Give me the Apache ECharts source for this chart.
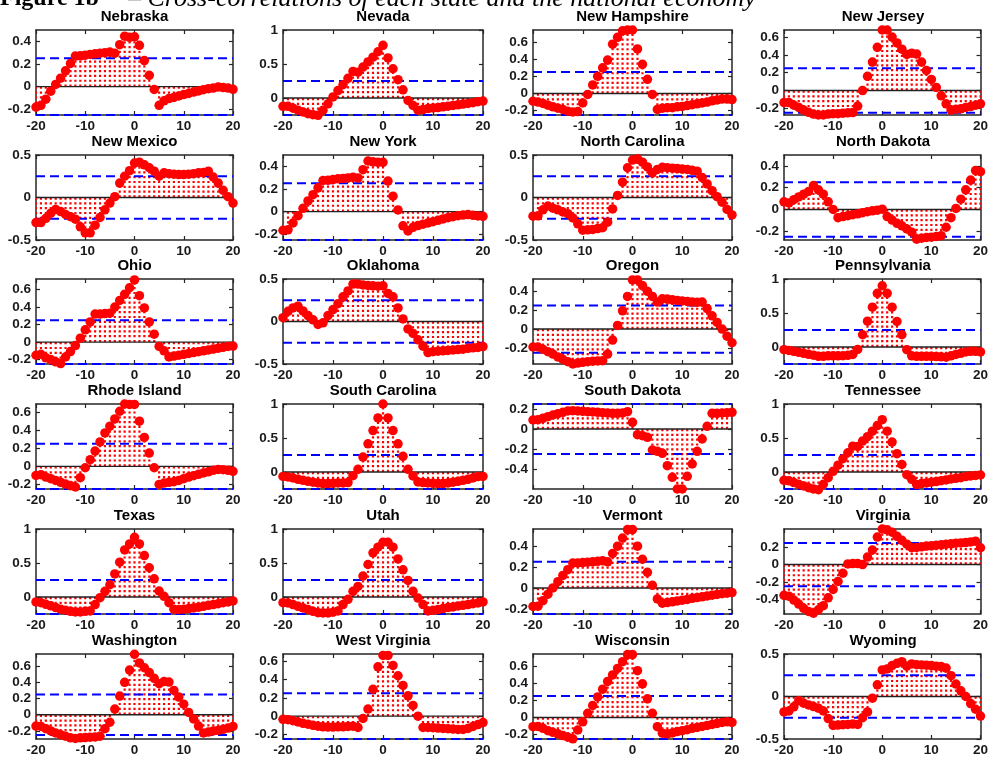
<!DOCTYPE html>
<html><head><meta charset="utf-8">
<script src="https://cdn.jsdelivr.net/npm/echarts@6/dist/echarts.min.js"></script>
<style>html,body{margin:0;padding:0;background:#fff;overflow:hidden}#c{width:991px;height:760px}</style>
</head><body><div id="c"></div>
<script>
// Lags (x values)
const lags = [-20,-19,-18,-17,-16,-15,-14,-13,-12,-11,-10,-9,-8,-7,-6,-5,-4,-3,-2,-1,0,1,2,3,4,5,6,7,8,9,10,11,12,13,14,15,16,17,18,19,20];
const xTicks = [-20,-10,0,10,20];
const bound = 0.25;

// Cross-correlations per state
const nebraska = [-0.18,-0.165,-0.11,-0.04,0.02,0.075,0.14,0.205,0.27,0.272,0.278,0.284,0.29,0.295,0.3,0.305,0.295,0.37,0.445,0.435,0.44,0.365,0.23,0.10,-0.025,-0.165,-0.125,-0.105,-0.095,-0.082,-0.07,-0.06,-0.048,-0.038,-0.027,-0.018,-0.012,-0.003,-0.008,-0.012,-0.023];
const nevada = [-0.123,-0.123,-0.15,-0.18,-0.205,-0.23,-0.245,-0.255,-0.18,-0.085,0.015,0.11,0.195,0.29,0.39,0.38,0.455,0.53,0.60,0.68,0.775,0.59,0.43,0.27,0.12,-0.035,-0.11,-0.18,-0.17,-0.155,-0.147,-0.14,-0.13,-0.12,-0.11,-0.1,-0.09,-0.08,-0.07,-0.055,-0.045];
const newHampshire = [-0.09,-0.1,-0.115,-0.135,-0.155,-0.17,-0.185,-0.205,-0.215,-0.21,-0.11,-0.01,0.1,0.2,0.3,0.39,0.575,0.655,0.73,0.74,0.74,0.52,0.34,0.165,-0.01,-0.185,-0.17,-0.165,-0.165,-0.155,-0.15,-0.14,-0.13,-0.12,-0.11,-0.1,-0.085,-0.075,-0.065,-0.065,-0.07];
const newJersey = [-0.135,-0.135,-0.165,-0.19,-0.22,-0.245,-0.265,-0.275,-0.275,-0.265,-0.26,-0.26,-0.255,-0.25,-0.248,-0.175,0.0,0.16,0.32,0.485,0.68,0.68,0.6,0.535,0.465,0.405,0.42,0.41,0.32,0.225,0.125,0.035,-0.06,-0.15,-0.22,-0.21,-0.205,-0.19,-0.18,-0.165,-0.15];
const newMexico = [-0.295,-0.295,-0.245,-0.185,-0.14,-0.165,-0.2,-0.225,-0.255,-0.345,-0.415,-0.415,-0.325,-0.235,-0.145,-0.065,0.01,0.17,0.25,0.315,0.405,0.415,0.385,0.35,0.31,0.25,0.29,0.28,0.275,0.27,0.27,0.275,0.28,0.29,0.295,0.31,0.24,0.17,0.085,0.01,-0.065];
const newYork = [-0.165,-0.16,-0.1,-0.035,0.03,0.095,0.15,0.21,0.275,0.278,0.283,0.29,0.293,0.298,0.304,0.298,0.37,0.447,0.44,0.435,0.435,0.27,0.137,0.015,-0.125,-0.17,-0.138,-0.123,-0.11,-0.1,-0.088,-0.076,-0.064,-0.053,-0.044,-0.035,-0.03,-0.026,-0.032,-0.038,-0.041];
const northCarolina = [-0.22,-0.215,-0.145,-0.1,-0.125,-0.145,-0.17,-0.19,-0.24,-0.31,-0.385,-0.38,-0.375,-0.365,-0.355,-0.29,-0.135,0.025,0.18,0.35,0.44,0.455,0.415,0.36,0.29,0.33,0.355,0.35,0.345,0.34,0.335,0.33,0.32,0.31,0.235,0.16,0.08,0.01,-0.055,-0.14,-0.205];
const northDakota = [0.07,0.06,0.09,0.115,0.14,0.165,0.22,0.18,0.14,0.07,0.0,-0.075,-0.065,-0.057,-0.048,-0.04,-0.03,-0.02,-0.012,-0.006,0.003,-0.065,-0.097,-0.127,-0.15,-0.178,-0.208,-0.272,-0.263,-0.257,-0.254,-0.248,-0.24,-0.163,-0.075,0.01,0.095,0.18,0.27,0.357,0.347];
const ohio = [-0.15,-0.14,-0.18,-0.2,-0.225,-0.245,-0.17,-0.108,-0.04,0.045,0.14,0.23,0.32,0.32,0.325,0.33,0.4,0.475,0.545,0.62,0.71,0.53,0.39,0.23,0.09,-0.05,-0.1,-0.17,-0.16,-0.15,-0.14,-0.13,-0.12,-0.11,-0.1,-0.09,-0.08,-0.07,-0.06,-0.05,-0.045];
const oklahoma = [0.045,0.12,0.16,0.18,0.125,0.07,0.02,-0.035,-0.015,0.07,0.14,0.21,0.29,0.36,0.44,0.44,0.43,0.425,0.42,0.415,0.42,0.33,0.29,0.16,0.03,-0.087,-0.14,-0.215,-0.29,-0.365,-0.355,-0.35,-0.345,-0.34,-0.335,-0.33,-0.325,-0.315,-0.31,-0.305,-0.295];
const oregon = [-0.19,-0.19,-0.215,-0.24,-0.265,-0.295,-0.32,-0.345,-0.37,-0.36,-0.352,-0.345,-0.34,-0.338,-0.335,-0.265,-0.117,0.038,0.193,0.345,0.52,0.52,0.46,0.4,0.345,0.286,0.32,0.317,0.31,0.303,0.297,0.293,0.286,0.283,0.286,0.217,0.14,0.07,0.0,-0.076,-0.145];
const pennsylvania = [-0.04,-0.05,-0.063,-0.078,-0.093,-0.107,-0.12,-0.137,-0.137,-0.13,-0.13,-0.13,-0.127,-0.122,-0.11,-0.035,0.18,0.38,0.585,0.79,0.9,0.79,0.585,0.375,0.18,-0.04,-0.13,-0.137,-0.137,-0.137,-0.137,-0.14,-0.145,-0.15,-0.13,-0.11,-0.093,-0.073,-0.063,-0.063,-0.073];
const rhodeIsland = [-0.1,-0.092,-0.118,-0.136,-0.155,-0.176,-0.195,-0.213,-0.228,-0.125,-0.015,0.074,0.17,0.27,0.37,0.445,0.525,0.61,0.69,0.685,0.685,0.5,0.32,0.147,-0.015,-0.2,-0.184,-0.176,-0.17,-0.155,-0.136,-0.118,-0.103,-0.088,-0.073,-0.06,-0.044,-0.033,-0.037,-0.044,-0.055];
const southCarolina = [-0.065,-0.073,-0.088,-0.107,-0.122,-0.137,-0.15,-0.16,-0.17,-0.17,-0.166,-0.16,-0.16,-0.155,-0.054,0.04,0.22,0.415,0.61,0.795,1.0,0.795,0.61,0.415,0.23,0.04,-0.058,-0.146,-0.155,-0.16,-0.166,-0.17,-0.17,-0.16,-0.15,-0.137,-0.122,-0.107,-0.088,-0.068,-0.065];
const southDakota = [0.09,0.093,0.107,0.123,0.14,0.153,0.167,0.18,0.183,0.18,0.177,0.173,0.17,0.167,0.163,0.16,0.157,0.157,0.16,0.173,0.067,-0.057,-0.067,-0.083,-0.21,-0.223,-0.243,-0.367,-0.483,-0.6,-0.6,-0.473,-0.35,-0.223,-0.1,0.027,0.157,0.157,0.16,0.163,0.167];
const tennessee = [-0.122,-0.13,-0.156,-0.18,-0.205,-0.23,-0.25,-0.26,-0.18,-0.083,0.01,0.1,0.195,0.283,0.38,0.375,0.455,0.52,0.6,0.683,0.77,0.6,0.44,0.27,0.112,-0.04,-0.107,-0.185,-0.17,-0.16,-0.15,-0.14,-0.127,-0.117,-0.102,-0.093,-0.083,-0.068,-0.058,-0.05,-0.044];
const texas = [-0.073,-0.083,-0.107,-0.13,-0.156,-0.18,-0.195,-0.21,-0.22,-0.22,-0.21,-0.205,-0.112,-0.01,0.083,0.18,0.34,0.512,0.693,0.78,0.878,0.78,0.61,0.43,0.268,0.088,0.01,-0.083,-0.18,-0.185,-0.18,-0.17,-0.16,-0.15,-0.137,-0.122,-0.112,-0.098,-0.083,-0.073,-0.058];
const utah = [-0.083,-0.088,-0.112,-0.137,-0.16,-0.185,-0.21,-0.23,-0.234,-0.234,-0.224,-0.205,-0.112,-0.034,0.083,0.156,0.307,0.478,0.65,0.732,0.805,0.805,0.732,0.56,0.4,0.244,0.083,-0.015,-0.112,-0.205,-0.195,-0.185,-0.17,-0.156,-0.146,-0.132,-0.122,-0.112,-0.098,-0.088,-0.073];
const vermont = [-0.178,-0.175,-0.122,-0.06,0.0,0.06,0.12,0.175,0.238,0.24,0.243,0.247,0.25,0.255,0.26,0.25,0.33,0.4,0.478,0.56,0.56,0.4,0.275,0.15,0.025,-0.106,-0.147,-0.14,-0.133,-0.125,-0.117,-0.11,-0.1,-0.092,-0.085,-0.077,-0.07,-0.062,-0.055,-0.05,-0.045];
const virginia = [-0.355,-0.365,-0.41,-0.455,-0.504,-0.54,-0.56,-0.522,-0.474,-0.384,-0.287,-0.194,-0.1,0.007,0.011,0.011,0.0,0.086,0.168,0.317,0.41,0.4,0.373,0.325,0.28,0.235,0.194,0.198,0.205,0.213,0.216,0.224,0.228,0.235,0.239,0.246,0.25,0.254,0.261,0.269,0.194];
const washington = [-0.14,-0.145,-0.173,-0.2,-0.226,-0.246,-0.266,-0.286,-0.294,-0.286,-0.282,-0.278,-0.274,-0.266,-0.173,-0.093,0.07,0.23,0.4,0.552,0.746,0.64,0.58,0.52,0.45,0.383,0.41,0.403,0.3,0.218,0.13,0.028,-0.052,-0.14,-0.226,-0.214,-0.2,-0.194,-0.181,-0.165,-0.145];
const westVirginia = [-0.035,-0.039,-0.05,-0.064,-0.078,-0.088,-0.1,-0.11,-0.117,-0.12,-0.12,-0.117,-0.117,-0.113,-0.11,-0.124,-0.025,0.078,0.293,0.54,0.664,0.664,0.555,0.442,0.336,0.223,0.117,0.0,-0.124,-0.124,-0.127,-0.13,-0.134,-0.138,-0.141,-0.145,-0.145,-0.134,-0.113,-0.092,-0.07];
const wisconsin = [-0.107,-0.103,-0.126,-0.153,-0.172,-0.19,-0.21,-0.229,-0.248,-0.145,-0.05,0.05,0.14,0.24,0.33,0.42,0.496,0.572,0.65,0.733,0.733,0.546,0.393,0.218,0.05,-0.107,-0.183,-0.19,-0.18,-0.164,-0.153,-0.141,-0.126,-0.115,-0.103,-0.092,-0.08,-0.069,-0.057,-0.05,-0.057];
const wyoming = [-0.182,-0.17,-0.122,-0.051,-0.079,-0.099,-0.119,-0.138,-0.17,-0.26,-0.34,-0.336,-0.332,-0.328,-0.324,-0.328,-0.25,-0.182,-0.02,0.138,0.312,0.324,0.364,0.39,0.41,0.356,0.383,0.375,0.372,0.368,0.364,0.356,0.352,0.335,0.245,0.146,0.067,0.0,-0.083,-0.15,-0.23];

const stateNames = ['Nebraska','Nevada','New Hampshire','New Jersey','New Mexico','New York','North Carolina','North Dakota','Ohio','Oklahoma','Oregon','Pennsylvania','Rhode Island','South Carolina','South Dakota','Tennessee','Texas','Utah','Vermont','Virginia','Washington','West Virginia','Wisconsin','Wyoming'];
const stateValues = [nebraska,nevada,newHampshire,newJersey,newMexico,newYork,northCarolina,northDakota,ohio,oklahoma,oregon,pennsylvania,rhodeIsland,southCarolina,southDakota,tennessee,texas,utah,vermont,virginia,washington,westVirginia,wisconsin,wyoming];
const yMins = [-0.25,-0.25,-0.25,-0.275,-0.5,-0.25,-0.5,-0.28,-0.25,-0.5,-0.37,-0.25,-0.25,-0.25,-0.6,-0.25,-0.25,-0.25,-0.25,-0.57,-0.3,-0.25,-0.25,-0.5];
const yMaxs = [0.5,1,0.74,0.68,0.5,0.5,0.5,0.5,0.72,0.5,0.53,1,0.69,1,0.25,1,1,1,0.565,0.41,0.75,0.68,0.74,0.5];
const tA = [-0.2,0,0.2,0.4], tB = [0,0.5,1], tC = [-0.2,0,0.2,0.4,0.6], tD = [-0.5,0,0.5], tE = [-0.4,-0.2,0,0.2];
const yTickVals = [tA,tB,tC,tC,tD,tA,tD,tA,tC,tD,tA,tB,tC,tB,tE,tB,tB,tB,tA,tE,tC,tC,tC,tD];

const figTitleBold = 'Figure 1b';
const figTitleItalic = '\u2013 Cross-correlations of each state and the national economy';

// Layout
const colLeft = [36,283,533,784], colW = [197,200,199,198];
const rowTop = [30,155,279,404,529,654], rowH = 85;
const AX = '#262626';
const FONT = '"Liberation Sans", Arial, sans-serif';

const grid=[], xAxis=[], yAxis=[], series=[], graphic=[];
stateNames.forEach((name,i)=>{
  const r=Math.floor(i/4), c=i%4;
  grid.push({left:colLeft[c], top:rowTop[r], width:colW[c], height:rowH, containLabel:false});
  const lineSt={show:true,onZero:false,lineStyle:{color:AX,width:1.5}};
  const tickSt={show:true,inside:true,length:4,lineStyle:{color:AX,width:1.2}};
  xAxis.push({gridIndex:i,type:'value',min:-20,max:20,interval:10,position:'bottom',
    axisLine:lineSt,axisTick:tickSt,splitLine:{show:false},
    axisLabel:{fontSize:13.5,fontWeight:'bold',color:'#1a1a1a',margin:4,fontFamily:FONT}});
  xAxis.push({gridIndex:i,type:'value',min:-20,max:20,interval:10,position:'top',
    axisLine:lineSt,axisTick:tickSt,splitLine:{show:false},axisLabel:{show:false}});
  const tv=yTickVals[i];
  yAxis.push({gridIndex:i,type:'value',min:yMins[i],max:yMaxs[i],position:'left',
    axisLine:lineSt,axisTick:Object.assign({},tickSt,{customValues:tv}),splitLine:{show:false},
    axisLabel:{customValues:tv,fontSize:13.5,fontWeight:'bold',color:'#1a1a1a',margin:5,fontFamily:FONT}});
  yAxis.push({gridIndex:i,type:'value',min:yMins[i],max:yMaxs[i],position:'right',
    axisLine:lineSt,axisTick:Object.assign({},tickSt,{customValues:tv}),splitLine:{show:false},
    axisLabel:{show:false}});
  const data = lags.map((l,k)=>[l, stateValues[i][k]]);
  const xi=2*i, yi=2*i;
  series.push({type:'custom',xAxisIndex:xi,yAxisIndex:yi,data:data,z:2,silent:true,clip:true,
    renderItem:(params,api)=>{
      const x=api.value(0), y=api.value(1);
      const p0=api.coord([x,0]), p1=api.coord([x,y]);
      return {type:'line',shape:{x1:p0[0],y1:p0[1],x2:p1[0],y2:p1[1]},
        style:{stroke:'#ff0000',lineWidth:2.2,lineDash:[2.2,2.6],lineCap:'butt'}};
    }});
  series.push({type:'line',xAxisIndex:xi,yAxisIndex:yi,data:[[-20,0],[20,0]],z:3,silent:true,
    symbol:'none',lineStyle:{color:'#222',width:1.4},animation:false});
  series.push({type:'line',xAxisIndex:xi,yAxisIndex:yi,data:[[-20,bound],[20,bound]],z:4,silent:true,
    symbol:'none',lineStyle:{color:'#0000ff',width:2,type:[9,5]},animation:false});
  series.push({type:'line',xAxisIndex:xi,yAxisIndex:yi,data:[[-20,-bound],[20,-bound]],z:4,silent:true,
    symbol:'none',lineStyle:{color:'#0000ff',width:2,type:[9,5]},animation:false});
  series.push({type:'scatter',xAxisIndex:xi,yAxisIndex:yi,data:data,z:5,silent:true,clip:false,
    symbol:'circle',symbolSize:9.5,itemStyle:{color:'#ff0000',opacity:1},animation:false});
  graphic.push({type:'text',x:colLeft[c]+colW[c]/2,y:rowTop[r]-13,silent:true,
    style:{text:name,font:'bold 15px '+FONT,fill:'#000',align:'center',verticalAlign:'middle'}});
});
graphic.push({type:'text',x:0,y:-1,silent:true,
  style:{text:figTitleBold,font:'bold 24px "Liberation Serif", "Times New Roman", serif',fill:'#000',align:'left',verticalAlign:'middle'}});
graphic.push({type:'text',x:128,y:-1,silent:true,
  style:{text:figTitleItalic,font:'italic 26px "Liberation Serif", "Times New Roman", serif',fill:'#000',align:'left',verticalAlign:'middle'}});

const chart = echarts.init(document.getElementById('c'),null,{renderer:'canvas'});
chart.setOption({animation:false,backgroundColor:'#fff',grid,xAxis,yAxis,series,graphic});
</script></body></html>
